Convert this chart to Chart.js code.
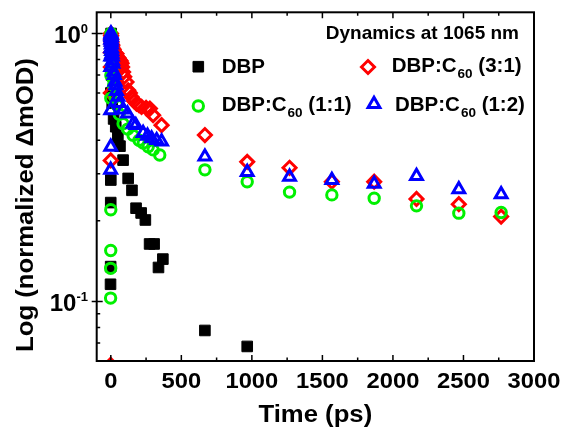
<!DOCTYPE html>
<html>
<head>
<meta charset="utf-8">
<script src="https://cdn.jsdelivr.net/npm/chart.js@4"></script>
<style>
  body { margin: 0; background: #fff; }
</style>
</head>
<body>
<canvas id="myChart" width="565" height="430"></canvas>
<script>
// data (time in ps, normalized ΔmOD)
const dbpTime = [-2, -1, -0.5, 0, 0.5, 1, 2, 3, 5, 10, 20, 35, 50, 65, 87, 123, 150, 179, 215, 245, 275, 307, 338, 369, 667, 967]
const dbpVal = [0.116, 0.135, 0.234, 0.284, 0.6, 0.9, 1.0, 0.85, 0.7, 0.55, 0.48, 0.449, 0.41, 0.38, 0.337, 0.288, 0.26, 0.223, 0.214, 0.2015, 0.164, 0.164, 0.134, 0.144, 0.078, 0.068]

const r31Time = [-1, -0.5, 0, 0.3, 0.5, 1, 2, 3, 5, 8, 10, 15, 20, 30, 40, 45, 55, 60, 70, 76, 80, 87, 95, 111, 123, 135, 147, 165, 182, 200, 218, 250, 277, 300, 360, 667, 967, 1267, 1567, 1867, 2167, 2467, 2767]
const r31Val = [0.058, 0.336, 0.6, 0.75, 0.85, 1.0, 0.98, 0.95, 0.93, 0.91, 0.9, 0.88, 0.87, 0.85, 0.84, 0.82, 0.81, 0.8, 0.79, 0.774, 0.75, 0.718, 0.69, 0.659, 0.614, 0.6, 0.58, 0.56, 0.548, 0.54, 0.532, 0.528, 0.525, 0.496, 0.455, 0.418, 0.332, 0.3155, 0.28, 0.28, 0.2414, 0.2308, 0.2075]

const r11Time = [-1.5, -1, -0.5, -0.2, 0, 0.3, 0.5, 1, 2, 3, 5, 8, 10, 15, 20, 30, 45, 60, 87, 120, 158, 200, 230, 265, 300, 347, 667, 967, 1267, 1567, 1867, 2167, 2467, 2767]
const r11Val = [0.103, 0.133, 0.155, 0.22, 0.573, 0.7, 0.85, 1.0, 0.97, 0.9, 0.82, 0.76, 0.72, 0.68, 0.64, 0.58, 0.54, 0.5, 0.461, 0.44, 0.417, 0.4, 0.39, 0.378, 0.368, 0.352, 0.31, 0.28, 0.256, 0.25, 0.243, 0.2275, 0.2137, 0.2148]

const r12Time = [-1, -0.5, -0.2, 0, 0.2, 0.4, 0.5, 0.7, 1, 1.5, 2, 2.5, 3, 4, 5, 6, 8, 10, 12, 15, 20, 25, 30, 35, 40, 50, 60, 87, 118, 158, 177, 229, 260, 289, 325, 360, 667, 967, 1267, 1567, 1867, 2167, 2467, 2767]
const r12Val = [0.31, 0.378, 0.517, 0.75, 0.82, 0.88, 0.95, 0.98, 1.0, 0.99, 0.97, 0.95, 0.93, 0.91, 0.88, 0.86, 0.84, 0.82, 0.79, 0.77, 0.72, 0.7, 0.66, 0.64, 0.61, 0.58, 0.55, 0.52, 0.503, 0.46, 0.455, 0.425, 0.415, 0.406, 0.4, 0.395, 0.347, 0.304, 0.292, 0.284, 0.275, 0.294, 0.2624, 0.2514]

const xMajor = [0, 500, 1000, 1500, 2000, 2500, 3000]
const xMinor = [250, 750, 1250, 1750, 2250, 2750]
const xLabels = ['0', '500', '1000', '1500', '2000', '2500', '3000']
const yMajor = [0.1, 1]
const yMinor = [0.07, 0.08, 0.09, 0.2, 0.3, 0.4, 0.5, 0.6, 0.7, 0.8, 0.9]
const yLabels = [['10', '-1'], ['10', '0']]

const pts = (t, v) => t.map((x, i) => ({ x, y: v[i] }))

const FONT = '"Liberation Sans", Arial, sans-serif'
const GREEN = '#00f000'

const text = (ctx, str, x, y, size, align = 'left', sx = 1) => {
    ctx.save()
    ctx.font = `bold ${size}px ${FONT}`
    ctx.textAlign = align
    ctx.textBaseline = 'alphabetic'
    ctx.translate(x, y)
    ctx.scale(sx, 1)
    ctx.fillText(str, 0, 0)
    ctx.restore()
}

// "DBP:C60 (x:y)" with subscript 60
const c60Label = (ctx, x, y, ratio) => {
    ctx.textAlign = 'left'
    ctx.font = `bold 20.5px ${FONT}`
    ctx.fillText('DBP:C', x, y)
    x += ctx.measureText('DBP:C').width + 1
    ctx.font = `bold 13.5px ${FONT}`
    ctx.fillText('60', x, y + 6)
    x += ctx.measureText('60').width
    ctx.font = `bold 20.5px ${FONT}`
    ctx.fillText(` (${ratio})`, x, y)
}

const marker = (ctx, style, color, radius, bw, fill, x, y) => {
    ctx.save()
    ctx.strokeStyle = color
    ctx.fillStyle = fill
    ctx.lineWidth = bw
    Chart.helpers.drawPoint(ctx, { pointStyle: style, radius, rotation: 0, borderWidth: bw }, x, y)
    ctx.restore()
}

const decor = {
    id: 'decor',
    afterDraw(chart) {
        const { ctx, chartArea: a, scales: { x, y } } = chart
        ctx.save()
        ctx.fillStyle = '#000'
        ctx.strokeStyle = '#000'

        // frame
        ctx.lineWidth = 2
        ctx.strokeRect(a.left, a.top, a.right - a.left, a.bottom - a.top)

        // x ticks, bottom and top, pointing inward
        ctx.lineWidth = 1.5
        ctx.beginPath()
        xMajor.forEach(v => {
            const px = x.getPixelForValue(v)
            ctx.moveTo(px, a.bottom); ctx.lineTo(px, a.bottom - 6)
            ctx.moveTo(px, a.top); ctx.lineTo(px, a.top + 6)
        })
        xMinor.forEach(v => {
            const px = x.getPixelForValue(v)
            ctx.moveTo(px, a.bottom); ctx.lineTo(px, a.bottom - 3.5)
            ctx.moveTo(px, a.top); ctx.lineTo(px, a.top + 3.5)
        })
        // y ticks on the left
        yMajor.forEach(v => {
            const py = y.getPixelForValue(v)
            ctx.moveTo(a.left - 5, py); ctx.lineTo(a.left + 6, py)
        })
        yMinor.forEach(v => {
            const py = y.getPixelForValue(v)
            ctx.moveTo(a.left, py); ctx.lineTo(a.left + 3.5, py)
        })
        ctx.stroke()

        // tick labels
        xMajor.forEach((v, i) => text(ctx, xLabels[i], x.getPixelForValue(v), 387.5, 22, 'center', 1.08))
        yMajor.forEach((v, i) => {
            const py = y.getPixelForValue(v)
            const [base, exp] = yLabels[i]
            ctx.font = `bold 13px ${FONT}`
            const ew = ctx.measureText(exp).width
            text(ctx, exp, 88, py - 1, 13, 'right')
            text(ctx, base, 88 - ew, py + 9.5, 24, 'right')
        })

        // axis titles
        text(ctx, 'Time (ps)', (a.left + a.right) / 2, 422, 24, 'center', 1.07)
        ctx.save()
        ctx.translate(32.5, 205)
        ctx.rotate(-Math.PI / 2)
        text(ctx, 'Log (normalized ΔmOD)', 0, 0, 24, 'center', 1.07)
        ctx.restore()

        // title and legend
        text(ctx, 'Dynamics at 1065 nm', 519, 39, 19, 'right')
        marker(ctx, 'rect', '#000', 7.5, 1, '#000', 198.3, 66.7)
        text(ctx, 'DBP', 221.7, 72.7, 20.5)
        marker(ctx, 'rectRot', '#ff0000', 6.5, 3, 'rgba(0,0,0,0)', 368, 67)
        c60Label(ctx, 391.7, 72, '3:1')
        marker(ctx, 'circle', GREEN, 5.2, 3, 'rgba(0,0,0,0)', 198.3, 106)
        c60Label(ctx, 221.7, 111, '1:1')
        marker(ctx, 'triangle', '#0000ff', 6.8, 3, 'rgba(0,0,0,0)', 374, 104)
        c60Label(ctx, 395, 111, '1:2')
        ctx.restore()
    }
}

// first dataset is drawn on top
const datasets = [
    { label: 'DBP:C60 (1:2)', data: pts(r12Time, r12Val), pointStyle: 'triangle', pointRadius: 6.8, pointBorderWidth: 3, borderColor: '#0000ff', backgroundColor: 'rgba(0,0,0,0)' },
    { label: 'DBP:C60 (1:1)', data: pts(r11Time, r11Val), pointStyle: 'circle', pointRadius: 5.2, pointBorderWidth: 3, borderColor: GREEN, backgroundColor: 'rgba(0,0,0,0)' },
    { label: 'DBP:C60 (3:1)', data: pts(r31Time, r31Val), pointStyle: 'rectRot', pointRadius: 6.5, pointBorderWidth: 3, borderColor: '#ff0000', backgroundColor: 'rgba(0,0,0,0)' },
    { label: 'DBP', data: pts(dbpTime, dbpVal), pointStyle: 'rect', pointRadius: 7.5, pointBorderWidth: 1, borderColor: '#000', backgroundColor: '#000' }
]

new Chart(document.querySelector('#myChart'), {
    type: 'scatter',
    data: { datasets },
    options: {
        responsive: false,
        animation: false,
        events: [],
        layout: { padding: { top: 12.3, right: 31, left: 0, bottom: 0 } },
        plugins: { legend: { display: false }, tooltip: { enabled: false } },
        scales: {
            x: {
                type: 'linear', min: -100, max: 3000,
                ticks: { display: false }, grid: { display: false }, border: { display: false },
                afterFit: s => { s.height = 69 }
            },
            y: {
                type: 'logarithmic', min: 0.06, max: 1.2,
                ticks: { display: false }, grid: { display: false }, border: { display: false },
                afterFit: s => { s.width = 96.7 }
            }
        }
    },
    plugins: [decor]
})
</script>
</body>
</html>
